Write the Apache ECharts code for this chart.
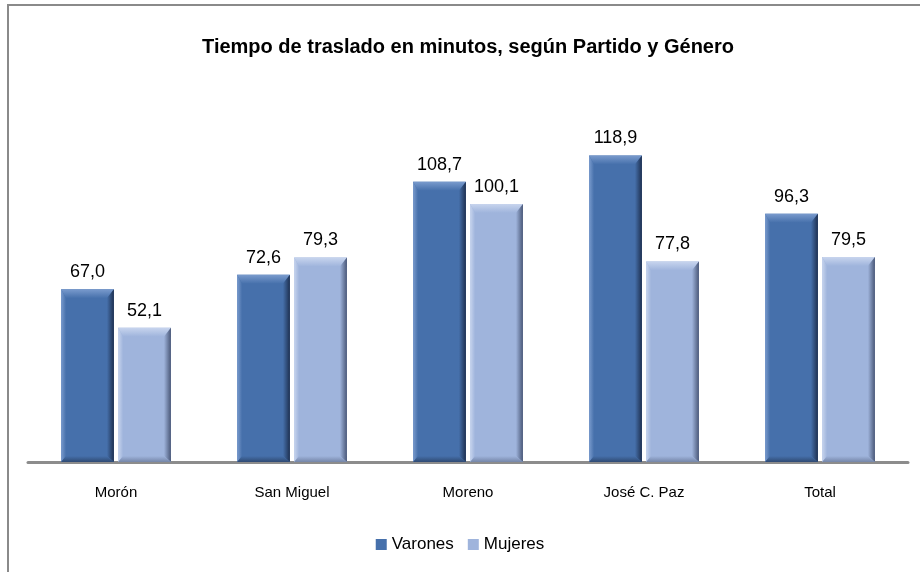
<!DOCTYPE html>
<html>
<head>
<meta charset="utf-8">
<script src="https://cdn.jsdelivr.net/npm/echarts@6/dist/echarts.min.js"></script>
<style>html,body{margin:0;padding:0;background:#fff;}#c{width:920px;height:572px;}</style>
</head>
<body>
<div id="c"></div>
<script>
const categories = ['Morón', 'San Miguel', 'Moreno', 'José C. Paz', 'Total'];
const varones = [67.0, 72.6, 108.7, 118.9, 96.3];
const mujeres = [52.1, 79.3, 100.1, 77.8, 79.5];

const palettes = [
  {base: '#4670ab', light: '#7a9bcd', dark: '#1e3050', bottom: '#2f4a73'},
  {base: '#9fb4dc', light: '#c8d5ee', dark: '#4a5878', bottom: '#7586a8'}
];
const LG = echarts.graphic.LinearGradient;

function makeRender(seriesIdx) {
  const pal = palettes[seriesIdx];
  return function (params, api) {
    const cat = api.value(0), val = api.value(1);
    const top = api.coord([cat, val]);
    const base = api.coord([cat, 0]);
    const band = api.size([1, 0])[0];
    const bw = band * 0.30, gap = band * 0.024;
    const x = seriesIdx === 0 ? top[0] - gap / 2 - bw : top[0] + gap / 2;
    const y = top[1], h = base[1] - top[1], w = bw;
    const bt = 9, bs = 5, br = 7, bb = 6;
    const label = val.toFixed(1).replace('.', ',');
    return {
      type: 'group',
      children: [
        {type: 'rect', shape: {x: x, y: y, width: w, height: h}, style: {fill: pal.base}},
        {type: 'polygon', shape: {points: [[x, y], [x + w, y], [x + w - br, y + bt], [x + bs, y + bt]]},
          style: {fill: new LG(0, 0, 0, 1, [{offset: 0, color: pal.light}, {offset: 1, color: pal.base}])}},
        {type: 'polygon', shape: {points: [[x, y], [x + bs, y + bt], [x + bs, y + h - bb], [x, y + h]]},
          style: {fill: new LG(0, 0, 1, 0, [{offset: 0, color: pal.light}, {offset: 1, color: pal.base}])}},
        {type: 'polygon', shape: {points: [[x + w, y], [x + w, y + h], [x + w - br, y + h - bb], [x + w - br, y + bt]]},
          style: {fill: new LG(0, 0, 1, 0, [{offset: 0, color: pal.base}, {offset: 1, color: pal.dark}])}},
        {type: 'polygon', shape: {points: [[x, y + h], [x + w, y + h], [x + w - br, y + h - bb], [x + bs, y + h - bb]]},
          style: {fill: new LG(0, 0, 0, 1, [{offset: 0, color: pal.base}, {offset: 1, color: pal.bottom}])}},
        {type: 'text', x: x + w / 2, y: y - 8,
          style: {text: label, fill: '#000', font: '18px "Liberation Sans"', align: 'center', verticalAlign: 'bottom'}}
      ]
    };
  };
}

const chart = echarts.init(document.getElementById('c'), null, {renderer: 'canvas'});
chart.setOption({
  animation: false,
  backgroundColor: '#fff',
  title: {
    text: 'Tiempo de traslado en minutos, según Partido y Género',
    left: 463, top: 32, textAlign: 'center',
    textStyle: {fontFamily: 'Liberation Sans', fontWeight: 'bold', fontSize: 20, color: '#000'}
  },
  legend: {
    bottom: 14, left: 'center', itemWidth: 11, itemHeight: 11, itemGap: 14,
    icon: 'rect',
    textStyle: {fontFamily: 'Liberation Sans', fontSize: 17, color: '#000'},
    data: ['Varones', 'Mujeres']
  },
  grid: {left: 28, right: 12, top: 101, bottom: 110},
  xAxis: {
    type: 'category', data: categories,
    axisLine: {lineStyle: {color: '#8c8c8c', width: 3}},
    axisTick: {show: false},
    axisLabel: {margin: 23, fontFamily: 'Liberation Sans', fontSize: 15, color: '#000'}
  },
  yAxis: {type: 'value', min: 0, max: 140, show: false, splitLine: {show: false}},
  series: [
    {name: 'Varones', type: 'custom', renderItem: makeRender(0), itemStyle: {color: '#4670ab'},
      encode: {x: 0, y: 1}, data: varones.map((v, i) => [i, v]), z: 2},
    {name: 'Mujeres', type: 'custom', renderItem: makeRender(1), itemStyle: {color: '#9fb4dc'},
      encode: {x: 0, y: 1}, data: mujeres.map((v, i) => [i, v]), z: 2}
  ],
  graphic: [
    {type: 'line', shape: {x1: 8, y1: 5, x2: 8, y2: 572}, style: {stroke: '#8a8a8a', lineWidth: 2}},
    {type: 'line', shape: {x1: 7, y1: 5, x2: 920, y2: 5}, style: {stroke: '#8a8a8a', lineWidth: 2}}
  ]
});
</script>
</body>
</html>
